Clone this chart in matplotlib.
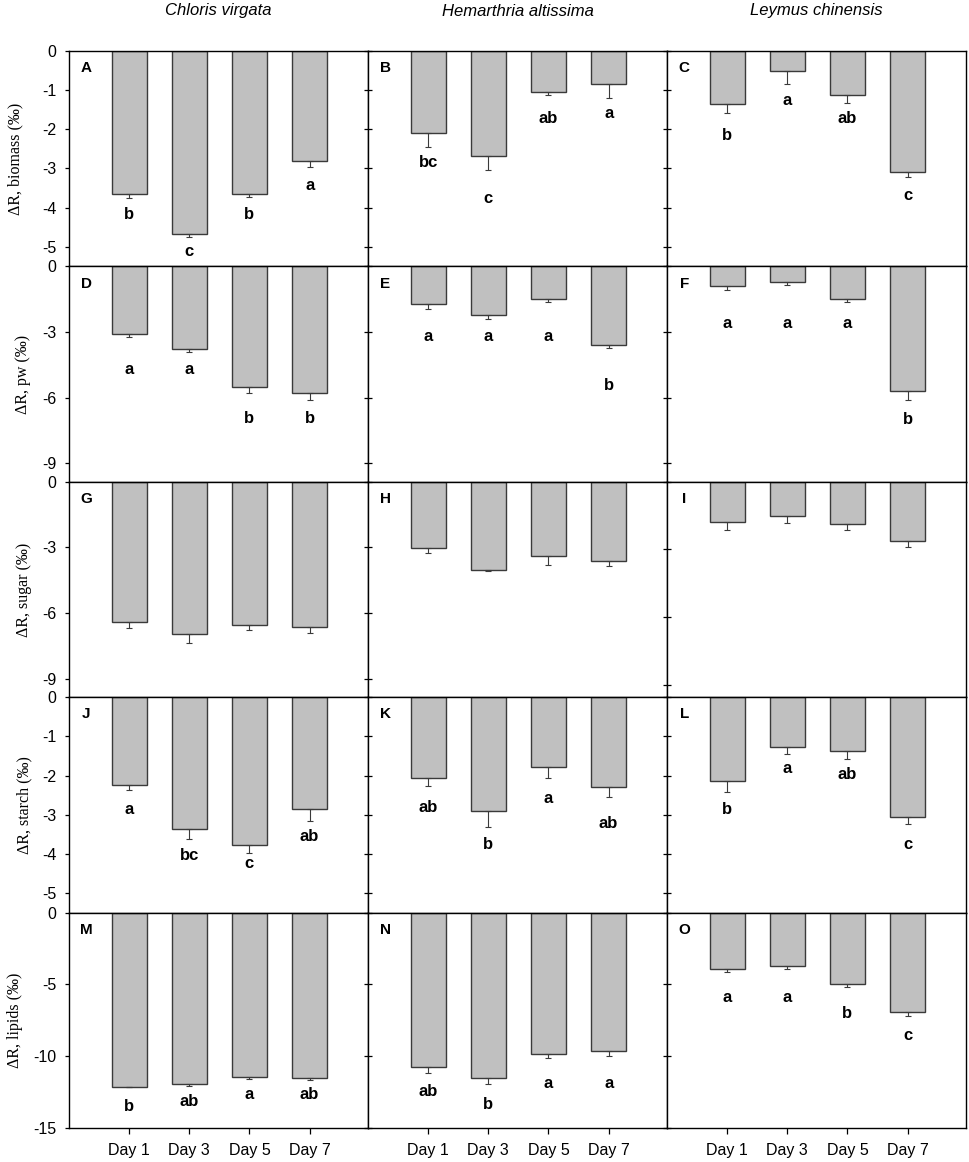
import matplotlib
matplotlib.use('Agg')
from matplotlib import pyplot as plt

plt.rcParams['font.family'] = ['Liberation Sans', 'DejaVu Sans']
plt.rcParams['axes.unicode_minus'] = False

days = ['Day 1', 'Day 3', 'Day 5', 'Day 7']
species = ['Chloris virgata', 'Hemarthria altissima', 'Leymus chinensis']
fractions = ['biomass', 'pw', 'sugar', 'starch', 'lipids']
panel_ids = ['ABC', 'DEF', 'GHI', 'JKL', 'MNO']

# mean values (per mil), one list per species
biomass_mean = [[-3.65, -4.66, -3.64, -2.82],
                [-2.10, -2.69, -1.05, -0.84],
                [-1.36, -0.52, -1.13, -3.10]]
biomass_se = [[0.10, 0.08, 0.10, 0.14],
              [0.36, 0.34, 0.07, 0.35],
              [0.22, 0.31, 0.19, 0.11]]
biomass_letters = [['b', 'c', 'b', 'a'], ['bc', 'c', 'ab', 'a'], ['b', 'a', 'ab', 'c']]
biomass_letter_y = [[-4.18, -5.13, -4.18, -3.43],
                    [-2.85, -3.76, -1.72, -1.60],
                    [-2.16, -1.26, -1.73, -3.69]]

pw_mean = [[-3.08, -3.77, -5.51, -5.77],
           [-1.71, -2.20, -1.50, -3.59],
           [-0.91, -0.73, -1.48, -5.68]]
pw_se = [[0.16, 0.14, 0.26, 0.36],
         [0.24, 0.20, 0.15, 0.14],
         [0.18, 0.14, 0.17, 0.44]]
pw_letters = [['a', 'a', 'b', 'b'], ['a', 'a', 'a', 'b'], ['a', 'a', 'a', 'b']]
pw_letter_y = [[-4.73, -4.73, -6.95, -6.95],
               [-3.20, -3.20, -3.20, -5.44],
               [-2.62, -2.62, -2.62, -6.98]]

sugar_mean = [[-6.41, -6.97, -6.56, -6.64],
              [-3.03, -4.03, -3.38, -3.62],
              [-1.80, -1.53, -1.87, -2.64]]
sugar_se = [[0.27, 0.39, 0.23, 0.27],
            [0.24, 0.06, 0.41, 0.21],
            [0.32, 0.31, 0.25, 0.25]]

starch_mean = [[-2.23, -3.36, -3.77, -2.85],
               [-2.06, -2.90, -1.79, -2.30],
               [-2.15, -1.26, -1.38, -3.07]]
starch_se = [[0.14, 0.27, 0.21, 0.30],
             [0.20, 0.41, 0.28, 0.26],
             [0.28, 0.20, 0.19, 0.16]]
starch_letters = [['a', 'bc', 'c', 'ab'], ['ab', 'b', 'a', 'ab'], ['b', 'a', 'ab', 'c']]
starch_letter_y = [[-2.88, -4.03, -4.25, -3.55],
                   [-2.81, -3.75, -2.58, -3.22],
                   [-2.88, -1.83, -1.97, -3.77]]

lipids_mean = [[-12.12, -11.91, -11.47, -11.54],
               [-10.75, -11.54, -9.86, -9.61],
               [-3.93, -3.72, -4.95, -6.91]]
lipids_se = [[0.05, 0.20, 0.10, 0.14],
             [0.42, 0.40, 0.26, 0.35],
             [0.19, 0.23, 0.21, 0.26]]
lipids_letters = [['b', 'ab', 'a', 'ab'], ['ab', 'b', 'a', 'a'], ['a', 'a', 'b', 'c']]
lipids_letter_y = [[-13.47, -13.17, -12.65, -12.65],
                   [-12.47, -13.33, -11.88, -11.88],
                   [-5.91, -5.91, -7.00, -8.58]]


def main():
    means = [biomass_mean, pw_mean, sugar_mean, starch_mean, lipids_mean]
    errs = [biomass_se, pw_se, sugar_se, starch_se, lipids_se]
    letters = [biomass_letters, pw_letters, None, starch_letters, lipids_letters]
    letter_y = [biomass_letter_y, pw_letter_y, None, starch_letter_y, lipids_letter_y]

    ylims = [[-5.5] * 3, [-9.85] * 3, [-9.85, -9.85, -9.55], [-5.5] * 3, [-15] * 3]
    yticks = [[0, -1, -2, -3, -4, -5], [0, -3, -6, -9], [0, -3, -6, -9],
              [0, -1, -2, -3, -4, -5], [0, -5, -10, -15]]
    label_x = [-0.154, -0.128, -0.124, -0.124, -0.154]

    fig, axes = plt.subplots(5, 3, figsize=(9.7, 11.62), dpi=100)
    fig.subplots_adjust(left=69 / 970, right=966 / 970, top=1 - 51 / 1162,
                        bottom=1 - 1128 / 1162, wspace=0, hspace=0)

    x = [1, 2, 3, 4]
    for r in range(5):
        for c in range(3):
            ax = axes[r][c]
            m = means[r][c]
            e = errs[r][c]
            ax.bar(x, m, width=0.58, color='#c0c0c0', edgecolor='#3a3a3a',
                   linewidth=1.0, zorder=2)
            ax.errorbar(x, m, yerr=[e, [0] * 4], fmt='none', ecolor='#3a3a3a',
                        elinewidth=0.8, capsize=2.5, capthick=0.8, zorder=3)
            if letters[r] is not None:
                for xi, t, yy in zip(x, letters[r][c], letter_y[r][c]):
                    ax.text(xi, yy, t, ha='center', va='center', fontsize=12,
                            fontweight='bold')
            ax.text(0.058, 0.92, panel_ids[r][c], transform=ax.transAxes,
                    ha='center', va='center', fontsize=11, fontweight='bold')

            ax.set_xlim(0, 4.97)
            ax.set_ylim(ylims[r][c], 0)
            ax.set_yticks(yticks[r])
            for sp in ax.spines.values():
                sp.set_linewidth(1.0)
                sp.set_color('black')
            if c == 0:
                ax.tick_params(axis='y', direction='out', length=3, width=0.9,
                               pad=6, labelsize=11.5)
                ax.set_ylabel('\u0394R, ' + fractions[r] + ' (\u2030)',
                              family='Liberation Serif', fontsize=11.5)
                ax.yaxis.set_label_coords(label_x[r], 0.5)
            else:
                ax.tick_params(axis='y', direction='inout', length=6, width=0.9,
                               labelleft=False)
            if r == 4:
                ax.set_xticks(x)
                ax.set_xticklabels(days)
                ax.tick_params(axis='x', direction='out', length=4, width=0.9,
                               pad=7, labelsize=11.5)
            else:
                ax.set_xticks([])

    for c in range(3):
        pos = axes[0][c].get_position()
        fig.text((pos.x0 + pos.x1) / 2, 1 - 11 / 1162, species[c], ha='center',
                 va='center', fontsize=12, style='italic')

    fig.savefig('out.png', dpi=100)


if __name__ == '__main__':
    main()
